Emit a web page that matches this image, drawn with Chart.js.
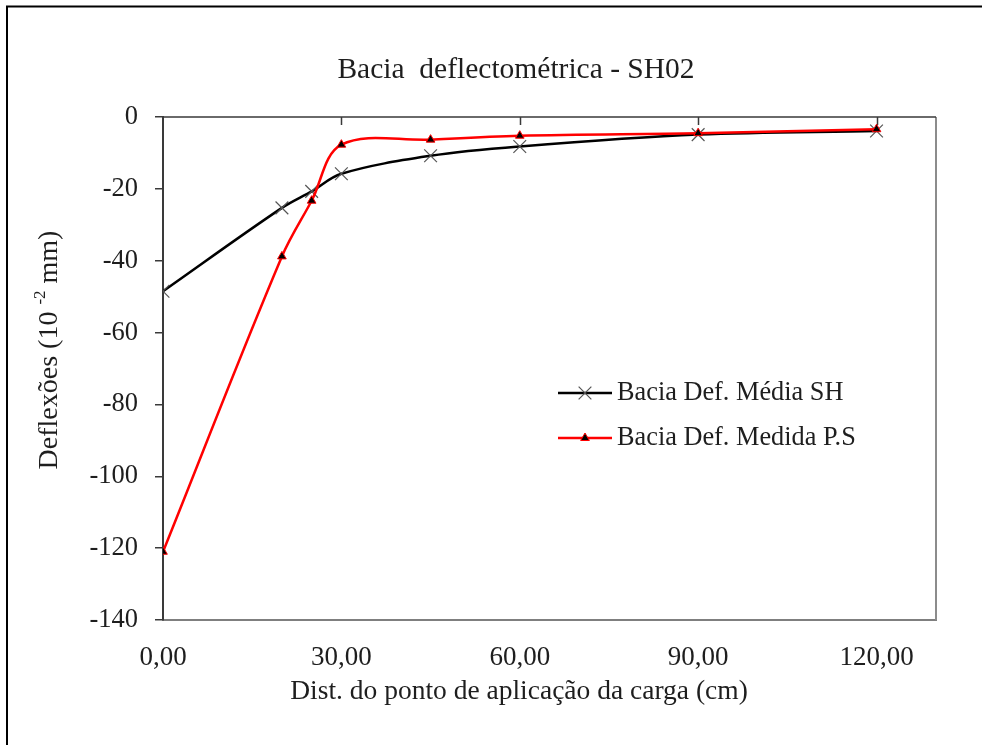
<!DOCTYPE html>
<html>
<head>
<meta charset="utf-8">
<script src="https://cdn.jsdelivr.net/npm/chart.js@4.4.1/dist/chart.umd.min.js"></script>
<style>
  html, body { margin: 0; padding: 0; background: #fff; }
  #wrap { width: 982px; height: 745px; }
</style>
</head>
<body>
<div id="wrap"><canvas id="basinChart" width="982" height="745"></canvas></div>
<script>
// Distance from the load point (cm)
const distances = [0, 20, 25, 30, 45, 60, 90, 120];
// Deflections (10^-2 mm)
const mediaSH = [-48.5, -25.3, -20.7, -15.8, -10.8, -8.2, -4.9, -3.9];
const medidaPS = [-121, -38.8, -23.3, -7.7, -6.3, -5.2, -4.5, -3.4];

const xTicks = [0, 30, 60, 90, 120];
const yTicks = [0, -20, -40, -60, -80, -100, -120, -140];
const seriesNames = ['Bacia Def. Média SH', 'Bacia Def. Medida P.S'];
const chartTitle = 'Bacia  deflectométrica - SH02';
const xTitle = 'Dist. do ponto de aplicação da carga (cm)';

const serif = '"Liberation Serif", "Times New Roman", serif';
const textColor = '#1e1e1e';

// Frame, axis lines, legend and titles
const decor = {
  id: 'decor',
  beforeDraw(chart) {
    const ctx = chart.ctx;
    ctx.save();
    ctx.fillStyle = '#fff';
    ctx.fillRect(0, 0, chart.width, chart.height);
    ctx.strokeStyle = '#000';
    ctx.lineWidth = 2;
    ctx.beginPath();
    ctx.moveTo(7, chart.height + 5);
    ctx.lineTo(7, 6.5);
    ctx.lineTo(chart.width + 5, 6.5);
    ctx.stroke();
    ctx.restore();
  },
  beforeDatasetsDraw(chart) {
    const ctx = chart.ctx;
    const a = chart.chartArea;
    const xs = chart.scales.x;
    ctx.save();
    // plot area border (right)
    ctx.strokeStyle = '#8c8c8c';
    ctx.lineWidth = 2;
    ctx.beginPath();
    ctx.moveTo(a.right, a.top);
    ctx.lineTo(a.right, a.bottom);
    ctx.stroke();
    // horizontal axis crosses at y = 0 (top), ticks inside
    ctx.strokeStyle = '#3a3a3a';
    ctx.lineWidth = 1.5;
    ctx.beginPath();
    ctx.moveTo(a.left, a.top);
    ctx.lineTo(a.right, a.top);
    xTicks.forEach(v => {
      if (v === 0) return;
      const px = Math.round(xs.getPixelForValue(v)) + 0.5;
      ctx.moveTo(px, a.top);
      ctx.lineTo(px, a.top + 8);
    });
    ctx.stroke();
    ctx.restore();
  },
  afterDraw(chart) {
    const ctx = chart.ctx;
    ctx.save();
    ctx.fillStyle = textColor;
    ctx.textAlign = 'center';
    ctx.textBaseline = 'middle';

    ctx.font = '29.5px ' + serif;
    ctx.fillText(chartTitle, 516, 70);

    ctx.font = '27.5px ' + serif;
    ctx.fillText(xTitle, 519, 692);

    // vertical axis title with superscript
    ctx.translate(50, 350);
    ctx.rotate(-Math.PI / 2);
    const p1 = 'Deflexões (10 ', sup = '-2', p2 = ' mm)';
    ctx.font = '28px ' + serif;
    const w1 = ctx.measureText(p1).width, w3 = ctx.measureText(p2).width;
    ctx.font = '17px ' + serif;
    const w2 = ctx.measureText(sup).width;
    let x0 = -(w1 + w2 + w3) / 2;
    ctx.textAlign = 'left';
    ctx.font = '28px ' + serif;
    ctx.fillText(p1, x0, 0);
    ctx.font = '17px ' + serif;
    ctx.fillText(sup, x0 + w1, -9);
    ctx.font = '28px ' + serif;
    ctx.fillText(p2, x0 + w1 + w2, 0);
    ctx.restore();

    // legend
    ctx.save();
    const rows = [393, 438];
    chart.data.datasets.forEach((ds, i) => {
      const y = rows[i];
      ctx.strokeStyle = ds.borderColor;
      ctx.lineWidth = ds.borderWidth;
      ctx.beginPath();
      ctx.moveTo(558, y);
      ctx.lineTo(612, y);
      ctx.stroke();
      ctx.strokeStyle = ds.pointBorderColor;
      ctx.fillStyle = ds.pointBackgroundColor;
      ctx.lineWidth = ds.pointBorderWidth;
      Chart.helpers.drawPoint(ctx, {
        pointStyle: ds.pointStyle, radius: ds.pointRadius,
        borderWidth: ds.pointBorderWidth, rotation: 0
      }, 585, y);
      ctx.fillStyle = textColor;
      ctx.font = '26.3px ' + serif;
      ctx.textAlign = 'left';
      ctx.textBaseline = 'middle';
      ctx.fillText(ds.label, 617, y);
    });
    ctx.restore();
  }
};

const toPoints = ys => distances.map((d, i) => ({ x: d, y: ys[i] }));

new Chart(document.getElementById('basinChart').getContext('2d'), {
  type: 'line',
  data: {
    datasets: [
      {
        label: seriesNames[0],
        data: toPoints(mediaSH),
        borderColor: '#000000',
        borderWidth: 2.5,
        tension: 0.35,
        pointStyle: 'crossRot',
        pointRadius: 9,
        pointBorderColor: '#555555',
        pointBackgroundColor: '#555555',
        pointBorderWidth: 1.2,
        order: 1
      },
      {
        label: seriesNames[1],
        data: toPoints(medidaPS),
        borderColor: '#ff0000',
        borderWidth: 2.5,
        tension: 0.35,
        pointStyle: 'triangle',
        pointRadius: 5,
        pointBorderColor: '#ff0000',
        pointBackgroundColor: '#000000',
        pointBorderWidth: 1,
        order: 0
      }
    ]
  },
  options: {
    responsive: false,
    animation: false,
    layout: { padding: { top: 117, right: 46, bottom: 0, left: 0 } },
    plugins: {
      legend: { display: false },
      tooltip: { enabled: false },
      title: { display: false }
    },
    scales: {
      x: {
        type: 'linear',
        min: 0,
        max: 130,
        afterBuildTicks: s => { s.ticks = xTicks.map(v => ({ value: v })); },
        afterFit: s => { s.height = 125; },
        grid: { display: false },
        border: { display: true, color: '#7f7f7f', width: 2 },
        ticks: {
          autoSkip: false,
          maxRotation: 0,
          padding: 14,
          color: textColor,
          font: { family: serif, size: 27 },
          callback: v => v.toFixed(2).replace('.', ',')
        }
      },
      y: {
        type: 'linear',
        min: -140,
        max: 0,
        afterBuildTicks: s => { s.ticks = yTicks.map(v => ({ value: v })); },
        afterFit: s => { s.width = 163; },
        grid: { drawOnChartArea: false, drawTicks: true, tickLength: 8, color: '#3a3a3a', lineWidth: 1.5 },
        border: { display: true, color: '#3a3a3a', width: 2 },
        ticks: {
          padding: 17,
          color: textColor,
          font: { family: serif, size: 26.5 }
        }
      }
    }
  },
  plugins: [decor]
});
</script>
</body>
</html>
